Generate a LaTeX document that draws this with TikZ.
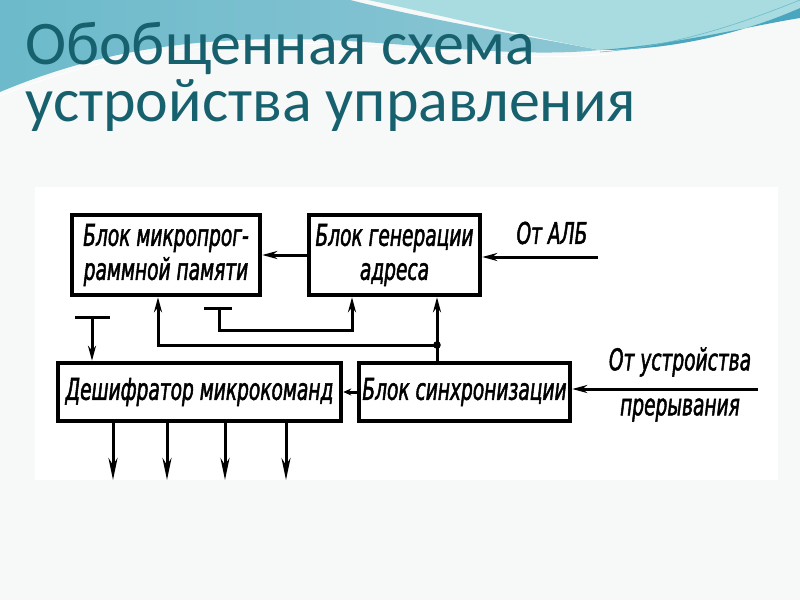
\documentclass[tikz,border=0pt]{standalone}
\usepackage{fontspec}
\usetikzlibrary{arrows.meta,calc}
\newfontfamily\titlefont{Carlito}
\newfontfamily\schemefont[FakeStretch=0.62,FakeBold=1.6]{DejaVu Sans}
\definecolor{titleteal}{HTML}{17606E}
\definecolor{slidebg}{HTML}{F7F8F8}
\definecolor{wavedeep}{HTML}{6CBACB}
\definecolor{wavemid}{HTML}{8CC6D4}
\definecolor{wavelight}{HTML}{A9DCE0}
\definecolor{wavedark}{HTML}{4AA6BE}
\tikzset{
  box/.style={draw, line width=4.5pt, inner sep=0pt, align=center,
    font=\schemefont\itshape\fontsize{30}{34}\selectfont},
  lbl/.style={inner sep=0pt, align=center,
    font=\schemefont\itshape\fontsize{30}{34}\selectfont},
  conn/.style={line width=3pt},
  arr/.style={conn, -{Stealth[length=15pt,width=8pt]}},
  longarr/.style={conn, -{Stealth[length=22pt,width=9pt]}},
  smallarr/.style={conn, -{Stealth[length=8pt,width=7pt]}},
  titletext/.style={anchor=base west, inner sep=0pt, text=titleteal,
    font=\titlefont\fontsize{62}{58}\selectfont}
}
\begin{document}
\begin{tikzpicture}[x=1pt,y=-1pt]
\useasboundingbox (0,0) rectangle (800,600);
\fill[slidebg] (0,0) rectangle (800,600);
% top decoration
\shade[left color=wavedeep, right color=wavemid]
  (0,0) -- (350,0) .. controls (430,20) and (520,35) .. (600,50)
  .. controls (520,58) and (430,45) .. (330,40)
  .. controls (200,35) and (100,50) .. (0,92) -- cycle;
\fill[wavelight] (368,0) -- (800,0) -- (800,8)
  .. controls (750,30) and (680,50) .. (600,50)
  .. controls (520,35) and (440,15) .. (368,0) -- cycle;
\fill[wavedark] (800,8) .. controls (750,30) and (680,50) .. (600,50)
  .. controls (680,44) and (750,26) .. (800,18) -- cycle;
\draw[white, line width=0.8pt] (0,96) .. controls (100,55) and (200,40) .. (330,44)
  .. controls (450,50) and (520,62) .. (610,54);
\draw[wavedeep, line width=0.6pt] (600,52) .. controls (680,46) and (750,20) .. (800,0);
% scanned area
\fill[white] (35,187) rectangle (778,480);
% title
\node[titletext] (t1) at (25,64) {Обобщенная схема};
\node[titletext] (t2) at (25,121) {устройства управления};
% blocks
\node[box, minimum width=188, minimum height=80] (b1) at (166,255) {Блок микропрог-\\раммной памяти};
\node[box, minimum width=171, minimum height=80] (b2) at (394.5,255) {Блок генерации\\адреса};
\node[box, minimum width=283, minimum height=58] (b3) at (199.5,392) {Дешифратор микрокоманд};
\node[box, minimum width=211, minimum height=58] (b4) at (464.5,392) {Блок синхронизации};
% inputs
\coordinate (alb) at (598,257);
\node[lbl] (lalb) at (552,233) {От АЛБ};
\draw[arr] (alb) -- (alb -| b2.east);
\draw[arr] (b2.west) -- (b1.east);
\coordinate (intr) at (758,389);
\node[lbl] (lint1) at (680,362) {От устройства};
\node[lbl] (lint2) at (680,410) {прерывания};
\draw[arr] (intr) -- (intr -| b4.east);
\draw[smallarr] (b4.west) -- (b3.east);
% synchronization feedback
\coordinate (j) at (437,345);
\coordinate (c1) at (158,345);
\draw[arr] (j |- b4.north) -- (j |- b2.south);
\draw[arr] (j) -- (c1) -- (c1 |- b1.south);
\fill (j) circle (3.8);
% T symbol to address generator
\coordinate (t2a) at (204,308);
\coordinate (t2b) at (232,308);
\coordinate (t2c) at (219,308);
\coordinate (c2) at (352,330);
\draw[conn] (t2a) -- (t2b);
\draw[arr] (t2c) |- (c2) -- (c2 |- b2.south);
% T symbol to decoder
\coordinate (t1a) at (75,317);
\coordinate (t1b) at (110,317);
\coordinate (t1c) at (92,317);
\draw[conn] (t1a) -- (t1b);
\draw[arr] (t1c) -- (t1c |- b3.north);
% outputs
\foreach \i/\x in {1/113,2/167,3/225,4/286}{
  \coordinate (o\i) at (\x,480);
  \draw[longarr] (o\i |- b3.south) -- (o\i);
}
\end{tikzpicture}
\end{document}
